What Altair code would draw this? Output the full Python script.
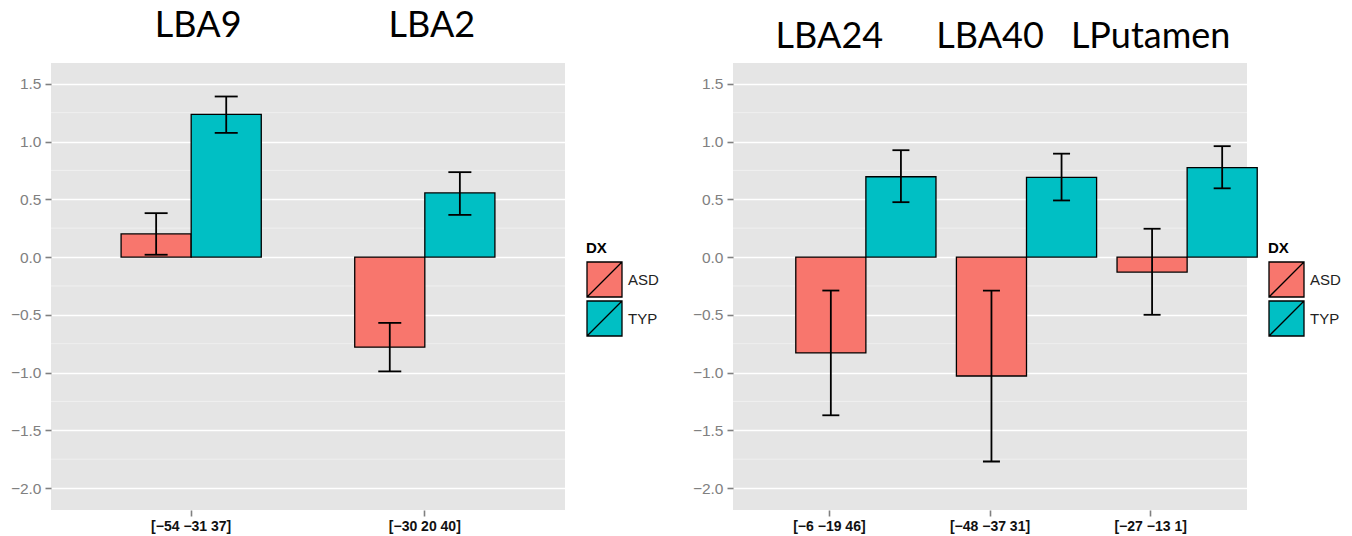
import altair as alt
import pandas as pd

DX = ["ASD", "TYP"]
COLORS = ["#F8766D", "#00BFC4"]

# Left panel
left_coords = ["[−54 −31 37]", "[−30 20 40]"]
left_titles = ["LBA9", "LBA2"]
left_asd_mean = [0.20, -0.78]
left_asd_lo = [0.02, -0.99]
left_asd_hi = [0.38, -0.57]
left_typ_mean = [1.235, 0.555]
left_typ_lo = [1.075, 0.365]
left_typ_hi = [1.39, 0.735]

# Right panel
right_coords = ["[−6 −19 46]", "[−48 −37 31]", "[−27 −13 1]"]
right_titles = ["LBA24", "LBA40", "LPutamen"]
right_asd_mean = [-0.83, -1.03, -0.13]
right_asd_lo = [-1.37, -1.77, -0.50]
right_asd_hi = [-0.29, -0.29, 0.245]
right_typ_mean = [0.695, 0.69, 0.775]
right_typ_lo = [0.475, 0.49, 0.595]
right_typ_hi = [0.925, 0.895, 0.96]

y_ticks = [-2.0, -1.5, -1.0, -0.5, 0.0, 0.5, 1.0, 1.5]
y_minor = [-1.75, -1.25, -0.75, -0.25, 0.25, 0.75, 1.25]
Y_DOMAIN = [-2.19, 1.68]

W, H = 514, 447


def yenc(field):
    return alt.Y(
        field,
        stack=None,
        title=None,
        scale=alt.Scale(domain=Y_DOMAIN, nice=False, zero=False),
        axis=alt.Axis(
            values=y_ticks,
            labelExpr="replace(format(datum.value, '.1f'), '-', '−')",
            labelColor="#808080",
            labelFontSize=15.5,
            labelFont="Liberation Sans",
            labelPadding=4,
            tickColor="#808080",
            tickSize=6,
            tickWidth=1.6,
            domain=False,
            gridColor="white",
            gridWidth=1.6,
        ),
    )


def panel(coords, titles, asd_m, asd_lo, asd_hi, typ_m, typ_lo, typ_hi, cap, title_y, title_dx):
    rows = []
    for i, c in enumerate(coords):
        rows.append(dict(coord=c, DX="ASD", mean=asd_m[i], lo=asd_lo[i], hi=asd_hi[i]))
        rows.append(dict(coord=c, DX="TYP", mean=typ_m[i], lo=typ_lo[i], hi=typ_hi[i]))
    df = pd.DataFrame(rows)
    tdf = pd.DataFrame({"coord": coords, "title": titles})
    mdf = pd.DataFrame({"v": y_minor})

    x = alt.X(
        "coord:N",
        sort=coords,
        title=None,
        scale=alt.Scale(paddingInner=0, paddingOuter=0.1),
        axis=alt.Axis(
            labelAngle=0,
            labelFont="Liberation Sans",
            labelFontSize=14,
            labelFontWeight="bold",
            labelColor="#111111",
            labelPadding=3,
            tickColor="#808080",
            tickSize=6,
            tickWidth=1.6,
            bandPosition=0.5,
            domain=False,
            gridColor="white",
            gridWidth=1.6,
        ),
    )
    xo = alt.XOffset("DX:N", sort=DX, scale=alt.Scale(paddingInner=0, paddingOuter=2 / 3))
    color = alt.Color(
        "DX:N",
        scale=alt.Scale(domain=DX, range=COLORS),
        legend=alt.Legend(
            orient="none",
            legendX=535,
            legendY=178,
            title="DX",
            titleFont="Liberation Sans",
            titleFontSize=15,
            titleFontWeight="bold",
            titleColor="black",
            titlePadding=5,
            labelFont="Liberation Sans",
            labelFontSize=15,
            labelColor="#222222",
            labelOffset=5,
            symbolType="M-1,-1H1V1H-1Z M-1,1L1,-1",
            symbolSize=1225,
            symbolStrokeColor="black",
            symbolStrokeWidth=1.3,
            symbolOpacity=1,
            rowPadding=-3,
        ),
    )

    base = alt.Chart(df)
    minor = alt.Chart(mdf).mark_rule(color="#F2F2F2", strokeWidth=0.8).encode(y=yenc("v:Q"))
    bars = base.mark_bar(stroke="black", strokeWidth=1.3, opacity=1).encode(
        x=x, xOffset=xo, y=yenc("mean:Q"), y2=alt.datum(0), color=color
    )
    err = base.mark_rule(color="black", strokeWidth=1.8).encode(
        x=x, xOffset=xo, y=yenc("lo:Q"), y2="hi:Q"
    )
    cap_lo = base.mark_tick(color="black", size=cap, thickness=1.8, opacity=1).encode(
        x=x, xOffset=xo, y=yenc("lo:Q")
    )
    cap_hi = base.mark_tick(color="black", size=cap, thickness=1.8, opacity=1).encode(
        x=x, xOffset=xo, y=yenc("hi:Q")
    )
    ttl = alt.Chart(tdf).mark_text(
        font="Lato", fontSize=36, color="black", baseline="alphabetic", align="center", dx=title_dx
    ).encode(x=x, y=alt.value(title_y), text="title:N")

    return alt.layer(minor, bars, err, cap_lo, cap_hi, ttl).properties(width=W, height=H)


left = panel(left_coords, left_titles, left_asd_mean, left_asd_lo, left_asd_hi,
             left_typ_mean, left_typ_lo, left_typ_hi, 23, -26, 7)
right = panel(right_coords, right_titles, right_asd_mean, right_asd_lo, right_asd_hi,
              right_typ_mean, right_typ_lo, right_typ_hi, 17, -15, 0)

chart = (
    alt.hconcat(left, right, spacing=168, bounds="flush")
    .resolve_scale(x="independent", y="independent", color="independent")
    .resolve_legend(color="independent")
    .properties(padding={"left": 10, "top": 8, "right": 5, "bottom": 5}, background="white")
    .configure_view(fill="#E5E5E5", stroke=None)
)

chart.save("out.html", embed_options={"renderer": "svg", "actions": False})
